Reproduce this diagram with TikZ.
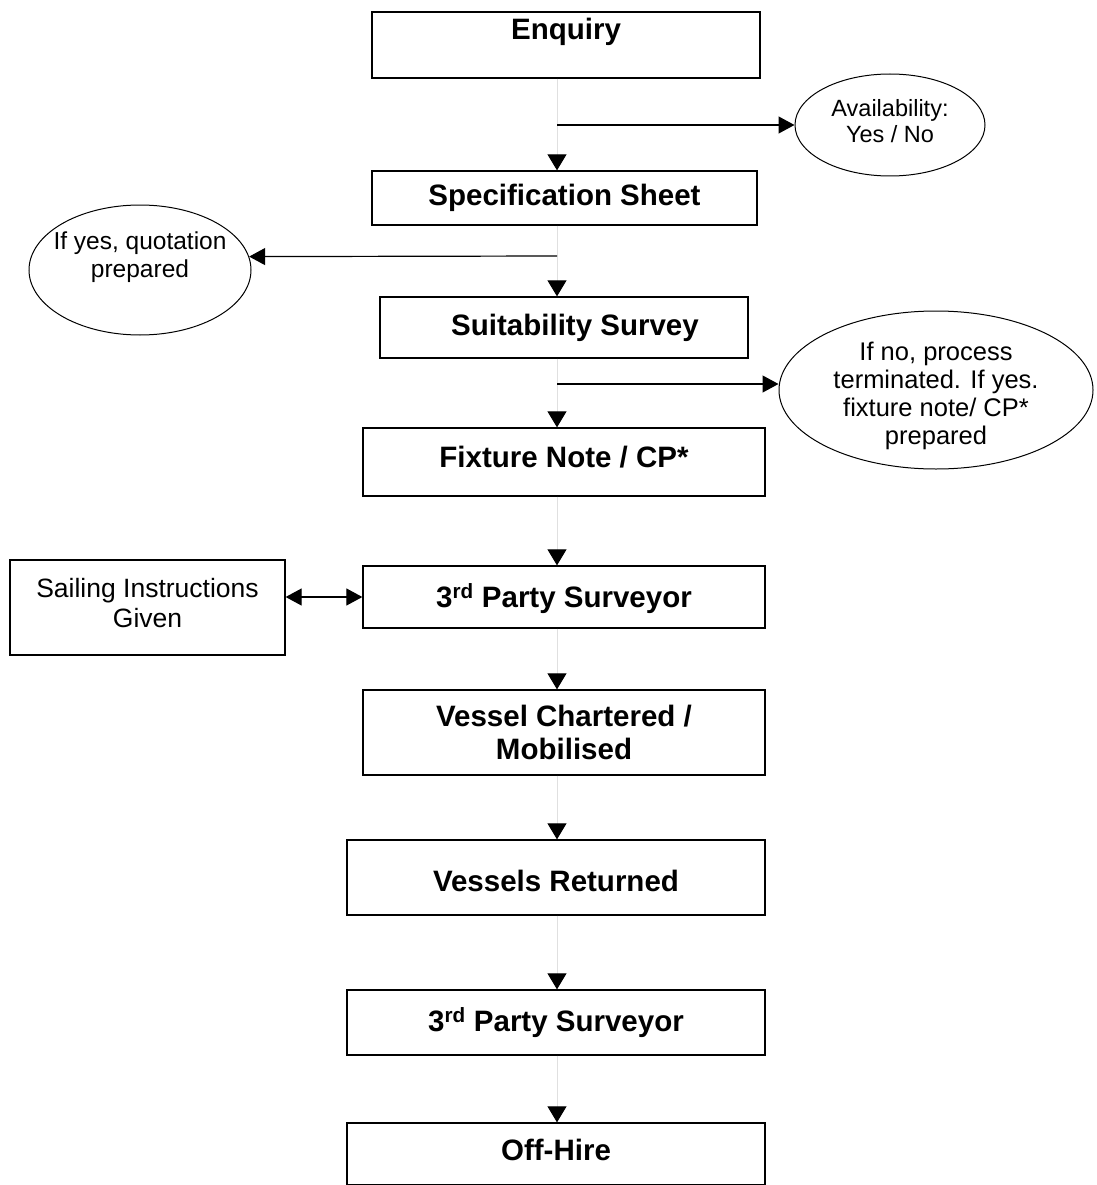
\documentclass[tikz,border=0pt]{standalone}
\usepackage{fontspec}
\setmainfont{Liberation Sans}
\usetikzlibrary{arrows.meta,shapes.geometric}
\newcommand{\updepth}[1]{\rule[-#1]{0pt}{#1}}
\newcommand{\downheight}[1]{\rule{0pt}{#1}}
\begin{document}
\begin{tikzpicture}[x=1pt,y=-1pt,
  box/.style={draw=black,line width=1.3pt,rectangle,inner sep=0pt,
    font=\bfseries\fontsize{29.5}{33}\selectfont,align=center},
  oval/.style={draw=black,line width=1pt,ellipse,inner sep=0pt,
    font=\fontsize{25.5}{28}\selectfont,align=center},
  notebox/.style={draw=black,line width=1.3pt,rectangle,inner sep=0pt,
    font=\fontsize{26.5}{30}\selectfont,align=center},
  flow/.style={draw=black!12,line width=1pt,
    -{Triangle[length=16pt,width=19pt,color=black,fill=black]}},
  branch/.style={draw=black,line width=1.2pt,
    -{Triangle[length=16pt,width=17pt]}},
  dbl/.style={draw=black,line width=1.2pt,
    {Triangle[length=16pt,width=17pt]}-{Triangle[length=16pt,width=17pt]}}]
\useasboundingbox (0,0) rectangle (1096,1185);

% main boxes
\node[box,minimum width=388pt,minimum height=66pt,text height=20pt,text depth=30pt] (enq) at (566,45) {Enquiry};
\node[box,minimum width=385pt,minimum height=54pt] (spec) at (564.5,198) {Specification Sheet};
\node[box,minimum width=368pt,minimum height=61pt] (suit) at (564,327.5) {\hspace*{22pt}Suitability Survey};
\node[box,minimum width=402pt,minimum height=68pt] (fix) at (564,462) {Fixture Note / CP*\updepth{11pt}};
\node[box,minimum width=402pt,minimum height=62pt] (third1) at (564,597) {\downheight{28pt}3\textsuperscript{rd} Party Surveyor};
\node[box,minimum width=402pt,minimum height=85pt] (vessel) at (564,732.5) {Vessel Chartered /\\Mobilised};
\node[box,minimum width=418pt,minimum height=75pt] (ret) at (556,877.5) {\downheight{28pt}Vessels Returned};
\node[box,minimum width=418pt,minimum height=65pt] (third2) at (556,1022.5) {3\textsuperscript{rd} Party Surveyor};
\node[box,minimum width=418pt,minimum height=62pt] (off) at (556,1154) {Off-Hire\updepth{8pt}};

% side notes
\node[notebox,minimum width=275pt,minimum height=95pt] (sail) at (147.5,607.5) {Sailing Instructions\\Given\updepth{10pt}};
\node[oval,font=\fontsize{23.5}{26}\selectfont,minimum width=190pt,minimum height=102pt] (avail) at (890,125) {Availability:\\Yes / No\updepth{9pt}};
\node[oval,font=\fontsize{24.5}{28}\selectfont,inner xsep=-25pt,minimum width=222pt,minimum height=130pt] (quote) at (140,270) {If yes, quotation\\prepared\updepth{31pt}};
\node[oval,inner ysep=-10pt,minimum width=314pt,minimum height=158pt] (term) at (936,390) {\downheight{31pt}If no, process\\terminated. If yes.\\fixture note/ CP*\\prepared};

% branch points on the main axis
\coordinate (axis) at (557,0);
\coordinate (b1) at (557,125);
\coordinate (b2) at (557,256);
\coordinate (b3) at (557,384);

% vertical flow
\draw[flow] (enq.south -| axis) -- (spec.north -| axis);
\draw[flow] (spec.south -| axis) -- (suit.north -| axis);
\draw[flow] (suit.south -| axis) -- (fix.north -| axis);
\draw[flow] (fix.south -| axis) -- (third1.north -| axis);
\draw[flow] (third1.south -| axis) -- (vessel.north -| axis);
\draw[flow] (vessel.south -| axis) -- (ret.north -| axis);
\draw[flow] (ret.south -| axis) -- (third2.north -| axis);
\draw[flow] (third2.south -| axis) -- (off.north -| axis);

% branches
\draw[branch] (b1) -- (avail.west);
\draw[branch] (b2) -- (quote.7);
\draw[branch] (b3) -- (b3 -| term.west);
\draw[dbl] (third1.west -| sail.east) -- (third1.west);
\end{tikzpicture}
\end{document}
